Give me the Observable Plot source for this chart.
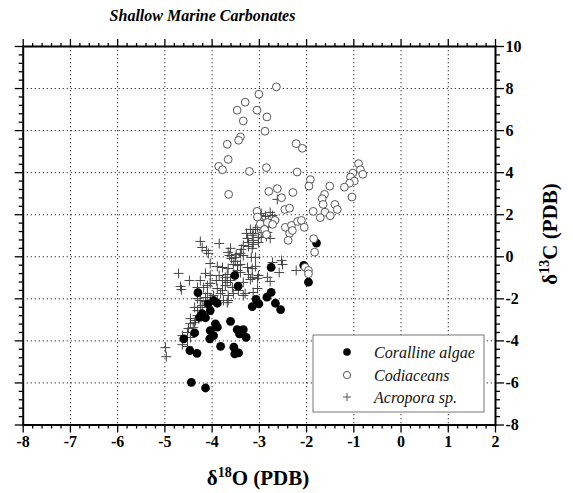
<!DOCTYPE html>
<html><head><meta charset="utf-8">
<script src="https://cdn.jsdelivr.net/npm/d3@7"></script>
<script src="https://cdn.jsdelivr.net/npm/@observablehq/plot@0.6"></script>
<style>
body{margin:0;background:#fff;}
#wrap{position:relative;width:573px;height:493px;background:#fff;}
#title{position:absolute;left:0;top:0;width:405px;height:30px;text-align:center;font:bold italic 16px "Liberation Serif","Times New Roman",serif;line-height:32px;color:#000;}
#chart{position:absolute;left:0;top:30px;}
</style></head><body>
<div id="wrap"><div id="title">Shallow Marine Carbonates</div><div id="chart"></div></div>
<script>
// ---- data (δ18O, δ13C in ‰ PDB) ----
const corallineO = [-2.75,-3.52,-3.45,-4.30,-2.75,-2.84,-3.07,-3.97,-4.09,-3.01,-3.15,-2.66,-2.55,-4.04,-4.21,-4.14,-4.26,-3.61,-3.93,-3.89,-3.47,-3.34,-4.04,-4.37,-3.97,-3.42,-3.28,-4.60,-4.05,-3.82,-3.54,-4.47,-4.32,-3.52,-3.44,-4.44,-4.14,-3.89,-1.79,-2.06,-1.96];
const corallineC = [-0.50,-0.89,-1.40,-1.71,-1.69,-1.92,-2.03,-2.08,-2.24,-2.24,-2.37,-2.21,-2.51,-2.56,-2.71,-2.90,-2.88,-3.07,-3.19,-3.35,-3.46,-3.46,-3.51,-3.62,-3.75,-3.67,-3.83,-3.90,-3.90,-4.26,-4.30,-4.46,-4.59,-4.62,-4.57,-5.97,-6.24,-2.21,0.65,-0.41,-1.21];

const codiaceanO = [-2.64,-3.01,-3.30,-3.47,-3.05,-2.84,-3.34,-2.88,-3.40,-3.44,
  -3.68,-2.22,-2.09,-3.66,-3.86,-3.78,-3.21,-2.85,-2.20,-1.92,
  -1.95,-1.51,-3.65,-2.62,-2.80,-2.29,-2.53,-1.62,-1.67,-1.65,
  -1.40,-1.35,-1.86,-1.61,-1.50,-1.71,-3.05,-2.46,-2.36,-3.04,
  -2.67,-2.98,-2.83,-2.72,-2.89,-2.85,-2.45,-2.32,-2.19,-2.11,
  -2.05,-2.36,-2.30,-2.39,-0.90,-0.86,-0.81,-1.02,-1.07,-0.99,
  -1.09,-1.20,-1.04,-1.85,-1.83,-2.03,-1.96,-1.96];
const codiaceanC = [8.08,7.73,7.35,6.97,6.97,6.65,6.46,5.97,5.70,5.54,
  5.35,5.38,5.16,4.63,4.30,4.14,4.06,4.24,4.03,3.67,
  3.36,3.36,2.97,3.24,3.11,3.06,2.81,2.97,2.76,2.49,
  2.49,2.25,2.16,2.12,1.95,1.86,2.16,2.25,2.31,1.89,
  1.73,1.56,1.63,1.54,1.30,1.06,1.40,1.49,1.68,1.73,
  1.40,1.11,1.25,0.78,4.43,4.14,3.92,3.98,3.79,3.60,
  3.50,3.31,2.84,0.86,0.22,-0.50,-0.65,-0.81];

const acroporaO = [-2.62,-2.96,-2.77,-2.87,-2.98,-2.72,-2.68,-2.81,-2.94,-3.04,
  -2.91,-2.81,-3.08,-3.19,-2.91,-2.83,-2.85,-2.96,-2.77,-3.13,
  -3.02,-3.27,-3.15,-3.25,-3.23,-3.13,-3.02,-3.34,-3.23,-3.13,
  -3.15,-3.38,-3.40,-3.51,-3.61,-3.66,-3.63,-3.49,-3.34,-3.17,
  -3.08,-4.25,-4.21,-4.12,-4.08,-3.85,-4.04,-3.89,-3.78,-3.66,
  -3.59,-3.51,-3.55,-3.46,-3.40,-3.46,-3.40,-3.25,-3.15,-3.08,
  -2.72,-2.53,-2.51,-2.22,-2.58,-4.71,-4.14,-4.04,-3.85,-3.72,
  -3.68,-3.78,-3.68,-3.61,-3.72,-3.91,-3.23,-3.15,-3.04,-3.02,
  -2.83,-2.77,-3.19,-3.34,-4.48,-4.25,-4.18,-4.10,-4.04,-4.31,
  -4.67,-4.65,-3.89,-3.78,-3.57,-3.44,-3.55,-3.82,-3.34,-3.13,
  -3.04,-3.30,-3.66,-3.66,-3.68,-4.10,-4.04,-3.97,-4.14,-4.31,
  -4.25,-4.14,-3.89,-3.76,-4.31,-4.25,-4.37,-4.21,-4.46,-4.35,
  -4.29,-4.37,-4.31,-4.46,-4.40,-4.50,-4.52,-4.46,-4.63,-4.63,
  -4.52,-4.99,-4.97];
const acroporaC = [2.73,2.06,2.11,1.92,1.96,1.96,1.78,1.73,1.63,1.40,
  1.54,1.40,1.30,1.30,1.16,1.16,0.97,0.92,0.87,1.11,
  0.92,1.11,1.02,0.87,0.68,0.78,0.68,0.54,0.49,0.59,
  0.40,0.35,0.16,-0.03,0.40,0.21,0.06,0.11,0.06,-0.03,
  -0.03,0.73,0.44,0.30,0.16,0.63,-0.32,-0.46,-0.51,-0.56,
  -0.08,-0.22,-0.37,-0.41,-0.37,-0.65,-0.75,-0.51,-0.56,-0.46,
  -0.27,-0.18,-0.37,-0.65,-0.75,-0.79,-0.79,-0.89,-0.89,-0.98,
  -0.84,-1.13,-1.22,-1.13,-1.37,-1.13,-0.84,-0.98,-1.03,-0.89,
  -0.98,-1.17,-1.08,-1.22,-1.13,-1.13,-1.46,-1.37,-1.27,-1.46,
  -1.41,-1.56,-1.51,-1.60,-1.46,-1.60,-1.75,-1.75,-1.84,-1.70,
  -1.51,-1.75,-1.84,-2.08,-2.18,-1.75,-1.94,-1.84,-1.94,-1.99,
  -2.08,-2.13,-2.08,-2.08,-2.56,-2.41,-2.41,-2.32,-2.94,-3.03,
  -2.94,-3.13,-2.80,-3.18,-3.37,-3.41,-3.60,-3.84,-3.75,-4.18,
  -4.27,-4.32,-4.75];

const xTicks = [-8,-7,-6,-5,-4,-3,-2,-1,0,1,2];
const yTicks = [-8,-6,-4,-2,0,2,4,6,8,10];
const seriesNames = ["Coralline algae","Codiaceans","Acropora sp."];
const xTitle = ["δ","18","O (PDB)"];
const yTitle = ["δ","13","C (PDB)"];

// ---- build ----
const table = (xs, ys) => xs.map((v, i) => ({o: v, c: ys[i]}));
const coralline = table(corallineO, corallineC);
const codiaceans = table(codiaceanO, codiaceanC);
const acropora = table(acroporaO, acroporaC);

const xMinor = d3.range(-8, 2.001, 0.2).map(v => +v.toFixed(2)).filter(v => !xTicks.includes(v));
const yMinor = d3.range(-8, 10.001, 0.4).map(v => +v.toFixed(2)).filter(v => !yTicks.includes(v));
const xGrid = xTicks.slice(1, -1);
const yGrid = yTicks.slice(1, -1);

const serif = '"Liberation Serif","Times New Roman",serif';
const tickStyle = {stroke: "black", strokeWidth: 1.3, fill: "none"};
const gridStyle = {stroke: "#222", strokeOpacity: 0.9, strokeWidth: 1, strokeDasharray: "1.3,2.7"};

const chart = Plot.plot({
  width: 573,
  height: 463,
  marginTop: 16,
  marginBottom: 68.5,
  marginLeft: 22.7,
  marginRight: 78,
  x: {domain: [-8, 2]},
  y: {domain: [-8, 10]},
  style: {fontFamily: serif, background: "white", color: "black"},
  marks: [
    Plot.gridX(xGrid, gridStyle),
    Plot.gridY(yGrid, gridStyle),
    Plot.axisX(xMinor, {anchor: "bottom", tickSize: 4, ...tickStyle}),
    Plot.axisX(xMinor, {anchor: "top", tickSize: 4, ...tickStyle}),
    Plot.axisX(xTicks, {anchor: "top", tickSize: 8, ...tickStyle}),
    Plot.axisX(xTicks, {anchor: "bottom", tickSize: 8, tickPadding: 3, stroke: "black", strokeWidth: 1.3,
      fill: "black", fontSize: 16, fontWeight: "bold", tickFormat: d => String(d), label: null}),
    Plot.axisY(yMinor, {anchor: "left", tickSize: 4, ...tickStyle}),
    Plot.axisY(yMinor, {anchor: "right", tickSize: 4, ...tickStyle}),
    Plot.axisY(yTicks, {anchor: "left", tickSize: 8, ...tickStyle}),
    Plot.axisY(yTicks, {anchor: "right", tickSize: 8, tickPadding: 2, stroke: "black", strokeWidth: 1.3,
      fill: "black", fontSize: 16, fontWeight: "bold", tickFormat: d => String(d), label: null}),
    Plot.dot(acropora, {x: "o", y: "c", symbol: "plus", r: 3.3, stroke: "#444", strokeWidth: 1}),
    Plot.dot(coralline, {x: "o", y: "c", r: 4.4, fill: "black", stroke: "none"}),
    Plot.dot(codiaceans, {x: "o", y: "c", r: 3.9, fill: "white", stroke: "#444", strokeWidth: 0.9}),
    Plot.frame({stroke: "black", strokeWidth: 2})
  ]
});
document.getElementById("chart").appendChild(chart);

// ---- axis titles with superscripts ----
const svg = d3.select(chart);
function title(parts, x, y, rotate) {
  const t = svg.append("text")
    .attr("transform", `translate(${x},${y})` + (rotate ? " rotate(-90)" : ""))
    .attr("text-anchor", "middle")
    .attr("font-family", serif).attr("font-weight", "bold").attr("font-size", 21).attr("fill", "black");
  t.append("tspan").text(parts[0]);
  t.append("tspan").attr("dy", -8).attr("font-size", 14).text(parts[1]);
  t.append("tspan").attr("dy", 8).text(parts[2]);
}
title(xTitle, 258, 455, false);
title(yTitle, 557, 204, true);

// ---- legend ----
const lg = svg.append("g").attr("transform", "translate(313,305)");
lg.append("rect").attr("width", 171).attr("height", 77).attr("fill", "white").attr("stroke", "#777").attr("stroke-width", 1);
const rowsY = [17, 40, 62];
lg.append("circle").attr("cx", 34).attr("cy", rowsY[0]).attr("r", 3.8).attr("fill", "black");
lg.append("circle").attr("cx", 34).attr("cy", rowsY[1]).attr("r", 3.6).attr("fill", "white").attr("stroke", "#444").attr("stroke-width", 0.9);
lg.append("path").attr("d", `M30,${rowsY[2]}H38M34,${rowsY[2]-4}V${rowsY[2]+4}`).attr("stroke", "#555").attr("stroke-width", 1);
seriesNames.forEach((name, i) => {
  lg.append("text").attr("x", 61).attr("y", rowsY[i]).attr("dy", "0.35em").attr("text-anchor", "start")
    .attr("font-family", serif).attr("font-style", "italic").attr("font-size", 16).attr("fill", "#111").text(name);
});
</script>
</body></html>
